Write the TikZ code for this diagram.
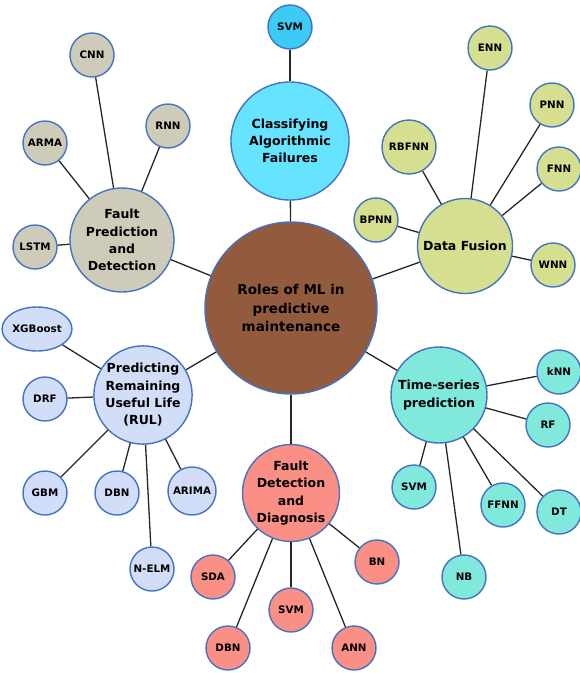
\documentclass[tikz,border=0pt]{standalone}
\usepackage{fontspec}
\setmainfont{DejaVu Sans}
\usetikzlibrary{shapes.geometric}
\definecolor{bord}{HTML}{4472C4}
\definecolor{cbrown}{HTML}{935B3E}
\definecolor{ccyan}{HTML}{66E3FF}
\definecolor{ccyanb}{HTML}{3BCBF5}
\definecolor{cbeige}{HTML}{CFCBB9}
\definecolor{cgreen}{HTML}{D5DF8F}
\definecolor{clav}{HTML}{D2DDF8}
\definecolor{csalm}{HTML}{FA8F85}
\definecolor{cturq}{HTML}{80E9DB}
\tikzset{
  bub/.style={circle, draw=bord, line width=1.4pt, inner sep=0pt, align=center, text=black},
  leaf/.style={bub, minimum size=44pt, font=\bfseries\fontsize{10.3}{11}\selectfont},
  hub/.style={bub, font=\bfseries\fontsize{12.5}{17.3}\selectfont},
  link/.style={line width=1.3pt, draw=black!85}
}
\begin{document}
\begin{tikzpicture}[x=1pt,y=-1pt]
\useasboundingbox (0,0) rectangle (580,673);
% centre
\node[hub, fill=cbrown, minimum size=172pt, font=\bfseries\fontsize{13.5}{18.5}\selectfont] (c) at (291,308) {Roles of ML in\\predictive\\maintenance};
% classifying
\node[hub, fill=ccyan, minimum size=118pt] (caf) at (290,141) {Classifying\\Algorithmic\\Failures};
\node[leaf, fill=ccyanb] (svm1) at (290,27) {SVM};
% fault prediction
\node[hub, fill=cbeige, minimum size=104pt] (fpd) at (122,240) {Fault\\Prediction\\and\\Detection};
\node[leaf, fill=cbeige] (cnn) at (92,55) {CNN};
\node[leaf, fill=cbeige] (rnn) at (168,126) {RNN};
\node[leaf, fill=cbeige] (arma) at (45,143) {ARMA};
\node[leaf, fill=cbeige] (lstm) at (35,247) {LSTM};
% data fusion
\node[hub, fill=cgreen, minimum size=95pt] (df) at (465,246) {Data Fusion};
\node[leaf, fill=cgreen] (enn) at (490,48) {ENN};
\node[leaf, fill=cgreen] (pnn) at (552,105) {PNN};
\node[leaf, fill=cgreen, minimum size=54pt] (rbf) at (409,147) {RBFNN};
\node[leaf, fill=cgreen] (fnn) at (559,169) {FNN};
\node[leaf, fill=cgreen] (bpnn) at (376,220) {BPNN};
\node[leaf, fill=cgreen] (wnn) at (553,265) {WNN};
% RUL
\node[hub, fill=clav, minimum size=96pt] (rul) at (143,395) {Predicting\\Remaining\\Useful Life\\(RUL)};
\node[leaf, ellipse, fill=clav, minimum width=60pt, minimum height=44pt] (xgb) at (37,329) {XGBoost};
\node[leaf, fill=clav] (drf) at (45,399) {DRF};
\node[leaf, fill=clav] (gbm) at (45,493) {GBM};
\node[leaf, fill=clav] (dbn1) at (117,493) {DBN};
\node[leaf, fill=clav, minimum size=48pt] (arima) at (192,491) {ARIMA};
\node[leaf, fill=clav] (nelm) at (152,569) {N-ELM};
% fault detection
\node[hub, fill=csalm, minimum size=97pt] (fdd) at (291,493) {Fault\\Detection\\and\\Diagnosis};
\node[leaf, fill=csalm] (sda) at (213,577) {SDA};
\node[leaf, fill=csalm] (dbn2) at (228,648) {DBN};
\node[leaf, fill=csalm] (svm2) at (291,610) {SVM};
\node[leaf, fill=csalm] (ann) at (354,648) {ANN};
\node[leaf, fill=csalm] (bn) at (377,562) {BN};
% time series
\node[hub, fill=cturq, minimum size=96pt] (tsp) at (439,395) {Time-series\\prediction};
\node[leaf, fill=cturq] (knn) at (559,372) {kNN};
\node[leaf, fill=cturq] (rf) at (548,425) {RF};
\node[leaf, fill=cturq] (svm3) at (414,487) {SVM};
\node[leaf, fill=cturq] (ffnn) at (503,505) {FFNN};
\node[leaf, fill=cturq] (dt) at (559,512) {DT};
\node[leaf, fill=cturq] (nb) at (464,577) {NB};
% links
\foreach \a/\b in {c/caf, caf/svm1, c/fpd, fpd/cnn, fpd/rnn, fpd/arma, fpd/lstm,
  c/df, df/enn, df/pnn, df/rbf, df/fnn, df/bpnn, df/wnn,
  c/rul, rul/xgb, rul/drf, rul/gbm, rul/dbn1, rul/arima, rul/nelm,
  c/fdd, fdd/sda, fdd/dbn2, fdd/svm2, fdd/ann, fdd/bn,
  c/tsp, tsp/knn, tsp/rf, tsp/svm3, tsp/ffnn, tsp/dt, tsp/nb}
  \draw[link] (\a) -- (\b);
\end{tikzpicture}
\end{document}
